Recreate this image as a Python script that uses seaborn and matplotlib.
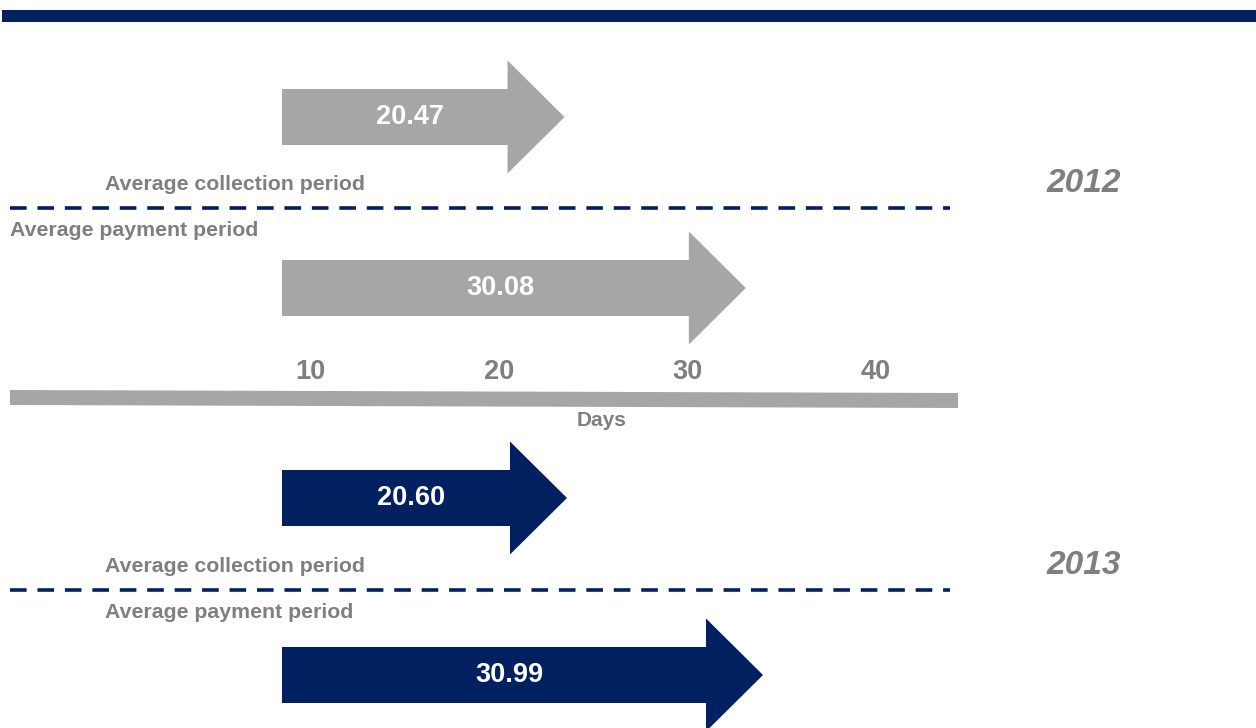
import pandas as pd
import matplotlib.pyplot as plt
import seaborn as sns
from matplotlib.patches import FancyArrow, Rectangle

# --- datos ---
anios = ["2012", "2013"]
cobro = [20.47, 20.60]      # Average collection period (days)
pago = [30.08, 30.99]       # Average payment period (days)
ticks_dias = [10, 20, 30, 40]

df = pd.DataFrame({"anio": anios, "cobro": cobro, "pago": pago})

gris = "#A6A6A6"
gris_txt = "#7F7F7F"
azul = "#002060"
colores = {"2012": gris, "2013": azul}

sns.set_theme(style="white")
plt.rcParams["font.family"] = ["Liberation Sans", "DejaVu Sans"]

W, H = 1256, 728
fig = plt.figure(figsize=(W / 100, H / 100), dpi=100)
ax = fig.add_axes([0, 0, 1, 1])

# escala: pixel -> dias  (10 dias en x=310px, 40 dias en x=876px)
px_por_dia = (876 - 310) / 30
origen_px = 310 - 10 * px_por_dia
def dia(px):
    return (px - origen_px) / px_por_dia

ax.set_xlim(dia(0), dia(W))
ax.set_ylim(H, 0)
ax.axis("off")

# barra superior
ax.add_patch(Rectangle((dia(2), 10), dia(W) - dia(2), 12, color=azul, lw=0))

inicio = dia(282)
largo_cabeza = 57 / px_por_dia
desplaz_txt = 15 / px_por_dia
y_centros = {"2012": (117, 288), "2013": (498, 675)}
y_linea = {"2012": 208, "2013": 590}

for _, fila in df.iterrows():
    a = fila["anio"]
    c = colores[a]
    for valor, yc in zip([fila["cobro"], fila["pago"]], y_centros[a]):
        punta = valor + largo_cabeza
        ax.add_patch(FancyArrow(inicio, yc, punta - inicio, 0, width=56,
                                head_width=113, head_length=largo_cabeza,
                                length_includes_head=True, color=c, lw=0))
        ax.text((inicio + valor) / 2 + desplaz_txt, yc, f"{valor:.2f}", color="white",
                fontsize=19.5, fontweight="bold", ha="center", va="center")
    # linea discontinua
    ax.plot([dia(10), dia(950)], [y_linea[a]] * 2, color=azul, lw=2.6,
            dashes=(4.6, 3.0))
    ax.text(dia(105), y_linea[a] - 24, "Average collection period", color=gris_txt,
            fontsize=15.3, fontweight="bold", ha="left", va="center")
    x_pago = 10 if a == "2012" else 105
    ax.text(dia(x_pago), y_linea[a] + 22, "Average payment period", color=gris_txt,
            fontsize=15.3, fontweight="bold", ha="left", va="center")
    ax.text(dia(1121), y_linea[a] - 24, a, color=gris_txt, fontsize=24,
            fontweight="bold", fontstyle="italic", ha="right", va="center")

# eje de dias
ax.fill([dia(10), dia(958), dia(958), dia(10)], [390, 393, 408, 405],
        color=gris, lw=0)
for t in ticks_dias:
    ax.text(t, 372, str(t), color=gris_txt, fontsize=19.5, fontweight="bold",
            ha="center", va="center")
ax.text(dia(602), 420, "Days", color=gris_txt, fontsize=15, fontweight="bold",
        ha="center", va="center")

fig.savefig("out.png", dpi=100)
plt.close()
